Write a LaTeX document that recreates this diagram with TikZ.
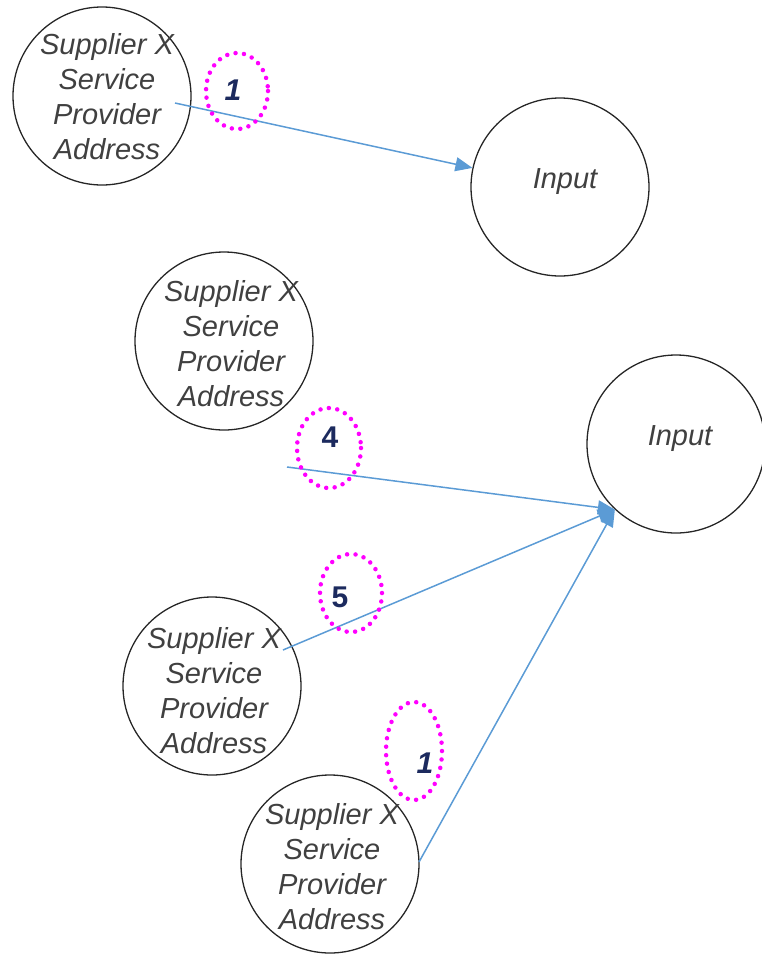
\documentclass[tikz,border=0pt]{standalone}
\usepackage{fontspec}
\setmainfont{Liberation Sans}
\usepackage{xcolor}
\usetikzlibrary{calc,arrows.meta}

\definecolor{inkgrey}{HTML}{404040}
\definecolor{flowblue}{HTML}{5B9BD5}
\definecolor{tagpink}{HTML}{FF00FF}
\definecolor{tagnavy}{HTML}{1C2A5E}

\tikzset{
	proc/.style={circle,draw=black!85,line width=1.3pt,minimum size=178pt,inner sep=0pt},
	lbl/.style={align=center,text=inkgrey,font=\fontsize{29}{35}\selectfont\itshape},
	flow/.style={draw=flowblue,line width=1.5pt,-{Triangle[length=17pt,width=14pt]}},
	tag/.style={draw=tagpink,line width=4.5pt,line cap=round,dash pattern=on 0pt off 8.5pt},
	num/.style={text=tagnavy,font=\fontsize{30}{30}\selectfont\bfseries}
}

\begin{document}
\begin{tikzpicture}[x=1pt,y=-1pt]
		\useasboundingbox (0,0) rectangle (762,954);
		
		%processes
		\node[proc] (supA) at (102,96) {};
		\node[lbl] (supAt) at ($(supA)+(5,1)$) {Supplier X\\Service\\Provider\\Address};
		\node[proc] (inA) at (560,187) {};
		\node[lbl] (inAt) at ($(inA)+(5,-5)$) {Input};
		
		\node[proc] (supB) at (224,341) {};
		\node[lbl] (supBt) at ($(supB)+(7,3)$) {Supplier X\\Service\\Provider\\Address};
		\node[proc] (inB) at (676,444) {};
		\node[lbl] (inBt) at ($(inB)+(4,-5)$) {Input};
		
		\node[proc] (supC) at (212,686) {};
		\node[lbl] (supCt) at ($(supC)+(2,5)$) {Supplier X\\Service\\Provider\\Address};
		
		\node[proc] (supD) at (330,864) {};
		\node[lbl] (supDt) at ($(supD)+(2,3)$) {Supplier X\\Service\\Provider\\Address};
		
		%start points
		\coordinate (s1) at (175,103);
		\coordinate (s4) at (287,467);
		\coordinate (s5) at (283,650);
		\coordinate (s6) at (419,862);
		
		%flows
		\draw[flow] (s1) -- (inA);
		\draw[flow] (s4) -- (inB.227);
		\draw[flow] (s5) -- (inB.227);
		\draw[flow] (s6) -- (inB.227);
		
		%tags
		\draw[tag] (237,91) ellipse (31 and 38);
		\node[num] (n1) at (233,90) {\itshape 1};
		\draw[tag] (329,448) ellipse (32 and 40);
		\node[num] (n4) at (330,437) {4};
		\draw[tag] (351,593) ellipse (31 and 39);
		\node[num] (n5) at (340,597) {5};
		\draw[tag] (414,751) ellipse (28 and 49);
		\node[num] (n6) at (425,763) {\itshape 1};
		
		\end{tikzpicture}
\end{document}
